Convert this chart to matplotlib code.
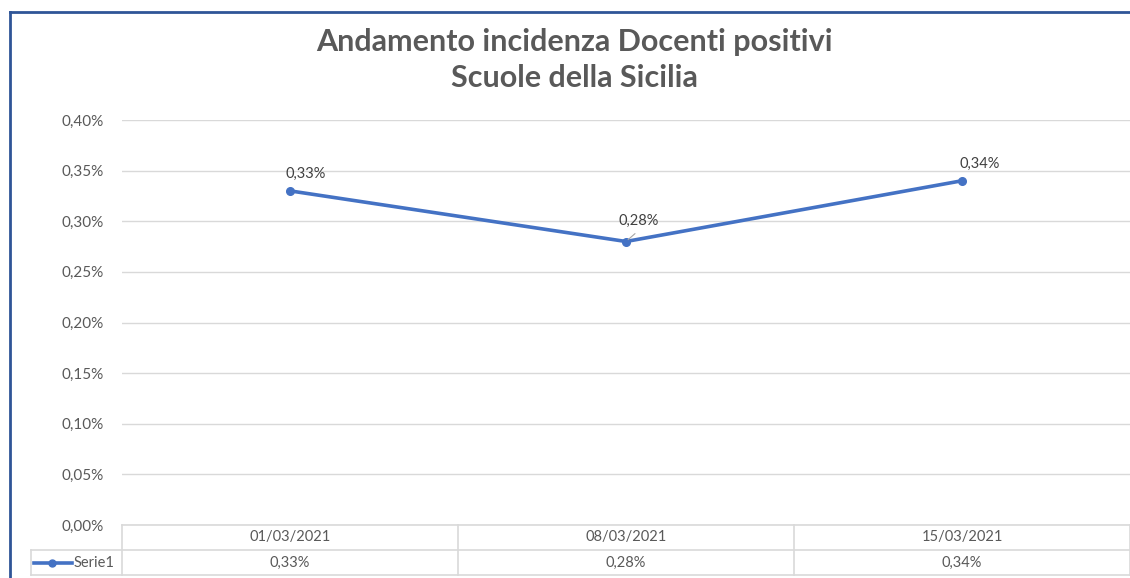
import matplotlib.pyplot as plt
from matplotlib.lines import Line2D

plt.rcParams['font.family'] = ['Lato', 'DejaVu Sans']

# Data
dates = ['01/03/2021', '08/03/2021', '15/03/2021']
values = [0.33, 0.28, 0.34]  # percent
series_name = 'Serie1'
yticks = [0.00, 0.05, 0.10, 0.15, 0.20, 0.25, 0.30, 0.35, 0.40]

blue = '#4472C4'
grey = '#595959'
grid = '#d9d9d9'

W, H = 1130, 578
fig = plt.figure(figsize=(W / 100, H / 100), dpi=100)
ax = fig.add_axes([122 / W, 53 / H, 1 - 122 / W, 405 / H])

x = range(len(dates))
ax.plot(x, values, color=blue, lw=2.6, marker='o', ms=5.5, zorder=3)
ax.set_xlim(-0.5, len(dates) - 0.5)
ax.set_ylim(0, 0.40)
ax.set_yticks(yticks)
ax.set_yticklabels([f'{v:.2f}%'.replace('.', ',') for v in yticks])
ax.tick_params(axis='y', length=0, pad=13, labelsize=11, labelcolor=grey)
ax.set_xticks([])
ax.grid(axis='y', color=grid, lw=1)
ax.set_axisbelow(True)
for s in ax.spines.values():
    s.set_visible(False)

# data labels
offsets = [(11, 7), (9, 10), (13, 7)]
for xi, v, off in zip(x, values, offsets):
    ax.annotate(f'{v:.2f}%'.replace('.', ','), (xi, v), xytext=off,
                textcoords='offset points', ha='center', va='bottom',
                fontsize=10.5, color='#404040')
ax.annotate('', (1, values[1]), xytext=(8, 7), textcoords='offset points',
            arrowprops=dict(arrowstyle='-', color='#a6a6a6', lw=0.8))

# data table below the axis
rh = 25 / 405
tr = ax.get_xaxis_transform()
n = len(dates)
lx = -0.5 - 91 / 336
ax.plot([-0.5, n - 0.5], [0, 0], transform=tr, color=grid, lw=1.2, clip_on=False)
ax.plot([lx, n - 0.5], [-rh, -rh], transform=tr, color=grid, lw=1.2, clip_on=False)
ax.plot([lx, n - 0.5], [-2 * rh, -2 * rh], transform=tr, color=grid, lw=1.2, clip_on=False)
for b in [i - 0.5 for i in range(n + 1)]:
    ax.plot([b, b], [0, -2 * rh], transform=tr, color=grid, lw=1.2, clip_on=False)
ax.plot([lx, lx], [-rh, -2 * rh], transform=tr, color=grid, lw=1.2, clip_on=False)
for xi, d, v in zip(x, dates, values):
    ax.text(xi, -rh / 2, d, transform=tr, ha='center', va='center', fontsize=10.5, color=grey)
    ax.text(xi, -1.5 * rh, f'{v:.2f}%'.replace('.', ','), transform=tr,
            ha='center', va='center', fontsize=10.5, color=grey)
# legend key in the table
fig.add_artist(Line2D([34 / W, 72 / W], [(H - 563) / H] * 2, color=blue, lw=2.6))
fig.add_artist(Line2D([52 / W], [(H - 563) / H], color=blue, marker='o', ms=5))
fig.text(74 / W, (H - 563) / H, series_name, ha='left', va='center', fontsize=10.5, color=grey)

# title
fig.text(0.508, (H - 60) / H, 'Andamento incidenza Docenti positivi\nScuole della Sicilia',
         ha='center', va='center', fontsize=22, fontweight='bold', color=grey, linespacing=1.35)

# chart frame (top and left edges)
frame = '#2F5597'
fig.add_artist(Line2D([10 / W, 1], [(H - 12) / H] * 2, color=frame, lw=2))
fig.add_artist(Line2D([10 / W, 10 / W], [0, (H - 12) / H], color=frame, lw=2))

fig.savefig('out.png', dpi=100, facecolor='white')
